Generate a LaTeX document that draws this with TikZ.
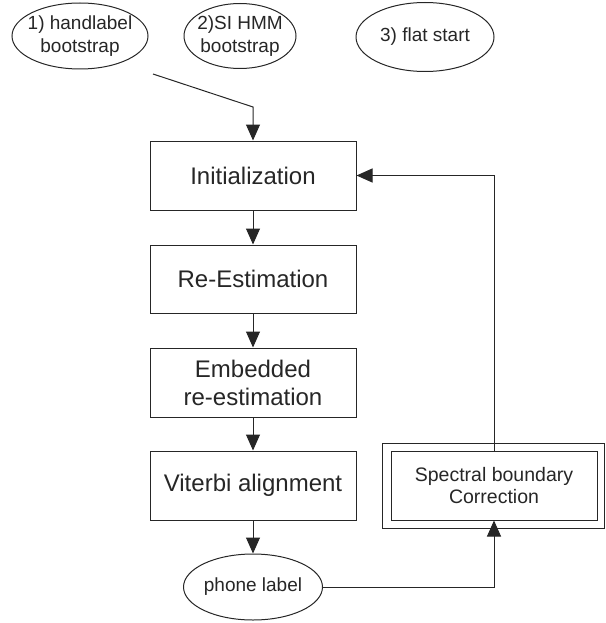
\documentclass[tikz,border=0pt]{standalone}
\usepackage{fontspec}
\setmainfont{Liberation Sans}
\usepackage{tikz}
\usetikzlibrary{arrows.meta, shapes.geometric}

\begin{document}
\begin{tikzpicture}[x = 1pt, y = -1pt, line width = 1pt, color = black!85,
  stage/.style = {draw, rectangle, minimum width = 206pt, minimum height = 69pt, inner sep = 0pt, align = center, font = \fontsize{24}{28}\selectfont},
  bubble/.style = {draw, ellipse, inner xsep = -8pt, inner ysep = -2pt, align = center, font = \fontsize{19}{23}\selectfont},
  flow/.style = {-{Triangle[length = 16pt, width = 14pt]}}]
  \useasboundingbox (0,0) rectangle (605,623);

  % starting points
  \node[bubble, minimum width = 136pt, minimum height = 66pt] (hand) at (80,36) {1) handlabel\\bootstrap};
  \node[bubble, minimum width = 112pt, minimum height = 65pt] (sihmm) at (240,36) {2)SI HMM\\bootstrap};
  \node[bubble, minimum width = 138pt, minimum height = 69pt] (flat) at (425,37) {3) flat start};

  % training steps
  \node[stage] (init) at (253,175.5) {Initialization};
  \node[stage, minimum height = 68pt] (reest) at (253,279) {Re-Estimation};
  \node[stage] (embed) at (253,382.5) {Embedded\\re-estimation};
  \node[stage] (viterbi) at (253,485.5) {Viterbi alignment};
  \node[bubble, minimum width = 139pt, minimum height = 66pt] (phone) at (253,587) {phone label};

  % boundary correction
  \node[draw, minimum width = 222pt, minimum height = 85pt] (frame) at (493.5,485.5) {};
  \node[stage, font = \fontsize{19.5}{22}\selectfont] (spec) at (494,485.5) {Spectral boundary\\Correction};

  \coordinate (start) at (153,74);
  \coordinate (bend) at (253,107);
  \draw[flow] (start) -- (bend) -- (init);
  \draw[flow] (init) -- (reest);
  \draw[flow] (reest) -- (embed);
  \draw[flow] (embed) -- (viterbi);
  \draw[flow] (viterbi) -- (phone);
  \draw[flow] (phone.east) -| (spec.south);
  \draw[flow] (spec.north) |- (init.east);

\end{tikzpicture}
\end{document}
